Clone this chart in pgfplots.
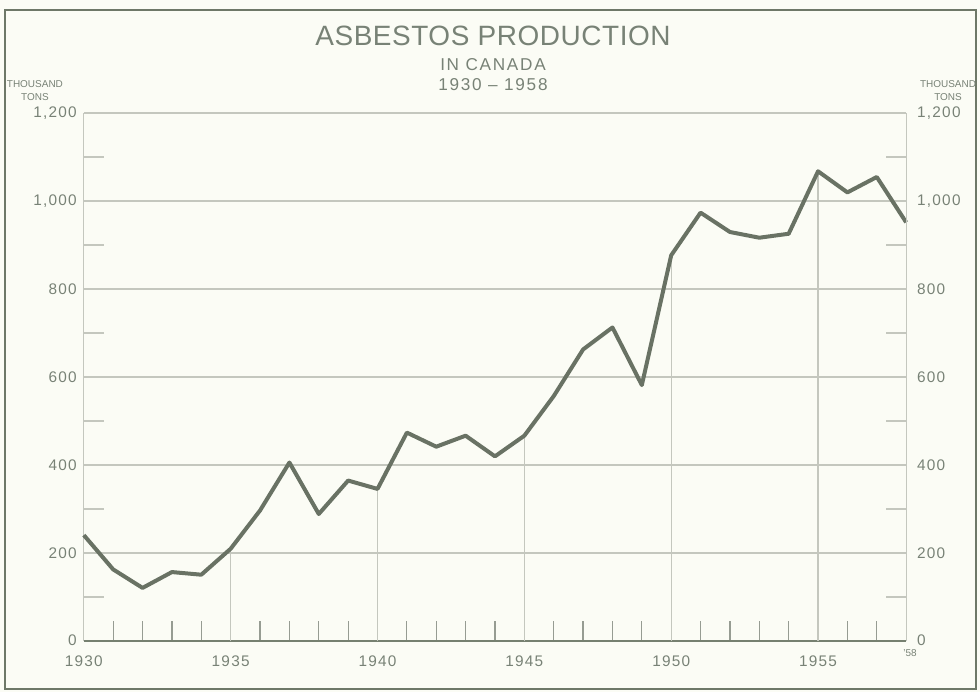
\documentclass[border=0pt]{standalone}
\usepackage{pgfplots}
\pgfplotsset{compat=1.18}
\usepackage{fontspec}
\setmainfont{Liberation Sans}
\definecolor{bgc}{RGB}{251,252,245}
\definecolor{textc}{RGB}{120,130,118}
\definecolor{datac}{RGB}{105,114,100}
\definecolor{gridc}{RGB}{196,199,190}
\definecolor{tickc}{RGB}{150,156,146}
\definecolor{axisc}{RGB}{118,128,112}
\definecolor{framec}{RGB}{110,120,104}
\newcommand\tlfont{\fontsize{7.7}{9}\selectfont\addfontfeatures{LetterSpace=8}}
\pgfplotstableread{
year value
1930 240
1931 162
1932 120
1933 156
1934 150
1935 209
1936 296
1937 405
1938 288
1939 364
1940 345
1941 473
1942 441
1943 466
1944 419
1945 466
1946 556
1947 662
1948 712
1949 581
1950 876
1951 973
1952 929
1953 916
1954 925
1955 1067
1956 1019
1957 1054
1958 951
}\datatable
\begin{document}
\begin{tikzpicture}
\fill[bgc] (-42pt,-25.5pt) rectangle (449pt,321pt);
\useasboundingbox (-42pt,-25.5pt) rectangle (449pt,321pt);
\draw[framec, line width=1pt] (-39.5pt,-24pt) rectangle (447pt,316pt);
\begin{axis}[
  at={(0,0)}, anchor=south west,
  width=412pt, height=264.5pt, scale only axis,
  xmin=1930, xmax=1958, ymin=0, ymax=1200,
  axis x line*=bottom, axis y line*=left,
  x axis line style={axisc, line width=1pt, -},
  y axis line style={gridc, line width=0.6pt, -},
  xtick={1930,1935,1940,1945,1950,1955},
  minor xtick={1931,1932,1933,1934,1936,1937,1938,1939,1941,1942,1943,1944,1946,1947,1948,1949,1951,1952,1953,1954,1956,1957},
  ytick={0,200,400,600,800,1000,1200},
  minor ytick={100,300,500,700,900,1100},
  major tick length=0pt,
  minor x tick style={tickc, line width=0.6pt},
  minor y tick style={gridc, line width=0.9pt},
  tick align=inside, minor tick length=10pt,
  ymajorgrids, major grid style={gridc, line width=0.8pt},
  tick label style={text=textc, font=\tlfont},
  /pgf/number format/assume math mode=true,
  /pgf/number format/1000 sep={,},
  xticklabel style={/pgf/number format/1000 sep={}, yshift=-4pt},
  extra x ticks={1958}, extra x tick labels={'58},
  extra x tick style={xticklabel style={font=\fontsize{5}{6}\selectfont, yshift=3pt, xshift=2pt}},
  clip=false,
]
\addplot[gridc, line width=0.7pt, ycomb, no marks] coordinates {(1935,209) (1940,345) (1945,466) (1950,876) (1955,1067)};
\addplot[datac, line width=2pt, line join=round, no marks] table[x=year, y=value] {\datatable};
\end{axis}
\begin{axis}[
  at={(0,0)}, anchor=south west,
  width=412pt, height=264.5pt, scale only axis,
  xmin=1930, xmax=1958, ymin=0, ymax=1200,
  axis x line=none, axis y line*=right,
  y axis line style={gridc, line width=0.6pt, -},
  ytick={0,200,400,600,800,1000,1200},
  minor ytick={100,300,500,700,900,1100},
  major tick length=0pt,
  minor y tick style={gridc, line width=0.9pt},
  tick align=inside, minor tick length=10pt,
  tick label style={text=textc, font=\tlfont},
  yticklabel style={xshift=2pt},
  /pgf/number format/assume math mode=true,
  /pgf/number format/1000 sep={,},
]
\addplot[draw=none] coordinates {(1930,0)};
\end{axis}
\node[anchor=base, text=textc, font=\fontsize{14}{16}\selectfont\addfontfeatures{LetterSpace=2}] at (205pt,298pt) {ASBESTOS PRODUCTION};
\node[anchor=base, text=textc, font=\fontsize{8.6}{10}\selectfont\addfontfeatures{LetterSpace=10}] at (205pt,285.5pt) {IN CANADA};
\node[anchor=base, text=textc, font=\fontsize{8.6}{10}\selectfont\addfontfeatures{LetterSpace=10}] at (205pt,275.5pt) {1930 -- 1958};
\node[anchor=base, text=textc, font=\fontsize{5}{6}\selectfont] at (-24.5pt,277pt) {THOUSAND};
\node[anchor=base, text=textc, font=\fontsize{5}{6}\selectfont] at (-24.5pt,270.5pt) {TONS};
\node[anchor=base, text=textc, font=\fontsize{5}{6}\selectfont] at (433pt,277pt) {THOUSAND};
\node[anchor=base, text=textc, font=\fontsize{5}{6}\selectfont] at (433pt,270.5pt) {TONS};
\end{tikzpicture}
\end{document}
